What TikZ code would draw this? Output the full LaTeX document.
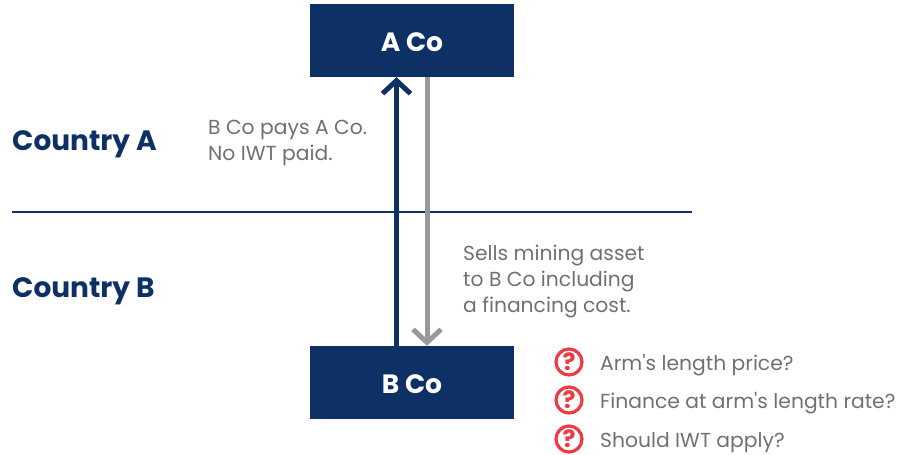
\documentclass[tikz,border=0pt]{standalone}
\usepackage{fontspec}
\setmainfont{Poppins}
\usetikzlibrary{arrows.meta}

\begin{document}
\begin{tikzpicture}[x=1pt, y=-1pt]

	\def\xbox{412}
	\def\xup{396.5}
	\def\xdown{427}
	\def\xquery{569}
	\def\xqtext{600}

	% Colours
	\definecolor{navycolor}{HTML}{0D3065}
	\definecolor{arrowgrey}{HTML}{999999}
	\definecolor{textgrey}{HTML}{6D7175}
	\definecolor{querycolor}{HTML}{EE3A43}

	% Styles
	\tikzstyle{company}=[fill=navycolor, text=white, minimum width=204pt, minimum height=73pt, inner sep=0pt, text height=21pt, text depth=0pt, font=\fontsize{26.5}{30}\selectfont\bfseries]
	\tikzstyle{country}=[anchor=base west, inner sep=0pt, text=navycolor, font=\fontsize{28}{32}\selectfont\bfseries]
	\tikzstyle{note}=[anchor=base west, inner sep=0pt, text=textgrey, align=left, font=\fontsize{20.3}{26}\selectfont]
	\tikzstyle{query}=[circle, draw=querycolor, line width=3.2pt, minimum size=26pt, inner sep=0pt, text=querycolor, font=\fontsize{24}{24}\selectfont\bfseries]
	\tikzstyle{flowline}=[line width=5pt, -{Straight Barb[length=13pt, width=28pt, line width=5pt]}]

	\useasboundingbox (0, 0) rectangle (906, 455);

	% Companies
	\node[company] (aco) at (\xbox, 40.5) {A Co};
	\node[company] (bco) at (\xbox, 382.5) {B Co};

	% Border
	\coordinate (borderl) at (12, 212);
	\coordinate (borderr) at (692, 212);
	\draw[navycolor, line width=2.4pt] (borderl) -- (borderr);

	\node[country] (countrya) at (12, 150) {Country A};
	\node[country] (countryb) at (12, 297) {Country B};

	% Flows
	\draw[flowline, navycolor] (bco.north -| \xup, 0) -- (aco.south -| \xup, 0);
	\draw[flowline, arrowgrey] (aco.south -| \xdown, 0) -- (bco.north -| \xdown, 0);

	\node[note] (paynote) at (208, 160) {B Co pays A Co.\\No IWT paid.};
	\node[note] (sellnote) at (463, 312) {Sells mining asset\\to B Co including\\a financing cost.};

	% Questions
	\node[query] (qa) at (\xquery, 362) {?};
	\node[query] (qb) at (\xquery, 400) {?};
	\node[query] (qc) at (\xquery, 439) {?};

	\node[note] (qatext) at (\xqtext, 370) {Arm\textquotesingle s length price?};
	\node[note] (qbtext) at (\xqtext, 408) {Finance at arm\textquotesingle s length rate?};
	\node[note] (qctext) at (\xqtext, 447) {Should IWT apply?};

\end{tikzpicture}
\end{document}
